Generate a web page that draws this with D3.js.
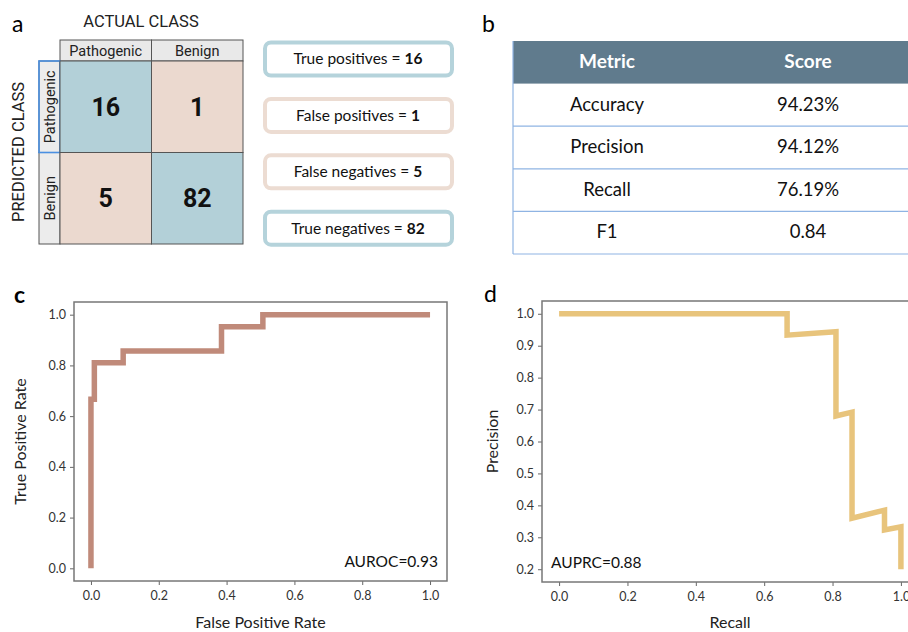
<!DOCTYPE html>
<html>
<head>
<meta charset="utf-8">
<script src="https://cdn.jsdelivr.net/npm/d3@7"></script>
<style>
  body { margin: 0; background: #fff; }
  svg { display: block; }
</style>
</head>
<body>
<svg width="908" height="632"></svg>
<script>
// panel a
const actualClasses = ["Pathogenic", "Benign"];
const predictedClasses = ["Pathogenic", "Benign"];
const confusion = [[16, 1], [5, 82]];
const summaryLabels = ["True positives", "False positives", "False negatives", "True negatives"];
const summaryValues = [16, 1, 5, 82];
const summaryKinds = ["true", "false", "false", "true"];

// panel b
const metricNames = ["Accuracy", "Precision", "Recall", "F1"];
const metricScores = ["94.23%", "94.12%", "76.19%", "0.84"];

// panel c - ROC
const rocFpr = [0, 0, 0.01, 0.01, 0.095, 0.095, 0.385, 0.385, 0.507, 0.507, 1.0];
const rocTpr = [0, 0.667, 0.667, 0.81, 0.81, 0.857, 0.857, 0.952, 0.952, 1.0, 1.0];
const rocXTicks = [0, 0.2, 0.4, 0.6, 0.8, 1.0];
const rocYTicks = [0, 0.2, 0.4, 0.6, 0.8, 1.0];

// panel d - PR
const prRecall = [0, 0.667, 0.667, 0.81, 0.81, 0.857, 0.857, 0.952, 0.952, 1.0, 1.0];
const prPrecision = [1.0, 1.0, 0.933, 0.944, 0.68, 0.692, 0.36, 0.385, 0.323, 0.333, 0.2];
const prXTicks = [0, 0.2, 0.4, 0.6, 0.8, 1.0];
const prYTicks = [0.2, 0.3, 0.4, 0.5, 0.6, 0.7, 0.8, 0.9, 1.0];

var svg = d3.select("svg");
var sans = "Lato, 'Open Sans', sans-serif";
var blueCell = "#b3d0d8", pinkCell = "#ebd9cf";

// panel letters
var letters = [["a", 12, 32, "normal"], ["b", 482, 32, "normal"], ["c", 14, 303, "bold"], ["d", 484, 302, "normal"]];
svg.selectAll(".letter").data(letters).enter().append("text")
    .attr("class", "letter")
    .attr("x", d => d[1]).attr("y", d => d[2])
    .style("font-family", sans).style("font-size", "23px").style("font-weight", d => d[3])
    .text(d => d[0]);

// ---------- a: confusion matrix ----------
var mx = d3.scaleBand().domain(actualClasses).range([60, 243]);
var my = d3.scaleBand().domain(predictedClasses).range([61, 244]);
var cm = svg.append("g").style("font-family", "Roboto, sans-serif");

cm.append("text").attr("x", 141).attr("y", 27).attr("text-anchor", "middle")
    .style("font-size", "16.5px").style("fill", "#222").text("ACTUAL CLASS");
cm.append("text").attr("transform", "translate(24,152) rotate(-90)").attr("text-anchor", "middle")
    .style("font-size", "16.5px").style("fill", "#222").text("PREDICTED CLASS");

// column header cells
cm.selectAll(".colhead").data(actualClasses).enter().append("rect")
    .attr("x", d => mx(d)).attr("y", 40).attr("width", mx.bandwidth()).attr("height", 21)
    .style("fill", "#e9e9e9").style("stroke", "#555").style("stroke-width", 1);
cm.selectAll(".colheadtxt").data(actualClasses).enter().append("text")
    .attr("x", d => mx(d) + mx.bandwidth() / 2).attr("y", 56).attr("text-anchor", "middle")
    .style("font-size", "14.5px").style("fill", "#222").text(d => d);

// row header cells
cm.selectAll(".rowhead").data(predictedClasses).enter().append("rect")
    .attr("x", 39).attr("y", d => my(d)).attr("width", 21).attr("height", my.bandwidth())
    .style("fill", "#ececec").style("stroke", "#555").style("stroke-width", 1);
cm.selectAll(".rowheadtxt").data(predictedClasses).enter().append("text")
    .attr("transform", d => "translate(55," + (my(d) + my.bandwidth() / 2) + ") rotate(-90)")
    .attr("text-anchor", "middle")
    .style("font-size", "14.5px").style("fill", "#222").text(d => d);
cm.append("rect").attr("x", 39).attr("y", my(predictedClasses[0]))
    .attr("width", 21).attr("height", my.bandwidth())
    .style("fill", "none").style("stroke", "#4a90e2").style("stroke-width", 1.6);

var cells = [];
predictedClasses.forEach((p, i) => actualClasses.forEach((a, j) => cells.push({p: p, a: a, v: confusion[i][j], diag: i === j})));
cm.selectAll(".cell").data(cells).enter().append("rect")
    .attr("x", d => mx(d.a)).attr("y", d => my(d.p))
    .attr("width", mx.bandwidth()).attr("height", my.bandwidth())
    .style("fill", d => d.diag ? blueCell : pinkCell).style("stroke", "#555").style("stroke-width", 1);
cm.selectAll(".celltxt").data(cells).enter().append("text")
    .attr("x", d => mx(d.a) + mx.bandwidth() / 2).attr("y", d => my(d.p) + my.bandwidth() / 2 + 9)
    .attr("text-anchor", "middle")
    .style("font-size", "25px").style("font-weight", "bold").style("fill", "#111").text(d => d.v);

// summary boxes
var boxY = d3.scaleBand().domain(summaryLabels).range([42.5, 244.7]).paddingInner(0.415);
var boxes = svg.selectAll(".sumbox").data(summaryLabels).enter().append("g");
boxes.append("rect")
    .attr("x", 265).attr("y", d => boxY(d)).attr("width", 187).attr("height", boxY.bandwidth())
    .attr("rx", 6)
    .style("fill", "#fff").style("stroke-width", 4)
    .style("stroke", (d, i) => summaryKinds[i] === "true" ? "#b5d3db" : "#ecdcd2");
var bt = boxes.append("text")
    .attr("x", 358).attr("y", d => boxY(d) + boxY.bandwidth() / 2 + 5.5).attr("text-anchor", "middle")
    .style("font-family", sans).style("font-size", "15.5px").style("fill", "#111");
bt.append("tspan").text(d => d + " = ");
bt.append("tspan").style("font-weight", "bold").text((d, i) => summaryValues[i]);

// ---------- b: metrics table ----------
var tLeft = 513, tRight = 960;
var rowY = d3.scaleBand().domain(["header"].concat(metricNames)).range([41, 254]);
var tb = svg.append("g").style("font-family", sans);
tb.append("rect").attr("x", tLeft).attr("y", rowY("header"))
    .attr("width", tRight - tLeft).attr("height", rowY.bandwidth())
    .style("fill", "#607b8d");
tb.selectAll(".hl").data(metricNames).enter().append("line")
    .attr("x1", tLeft).attr("x2", tRight)
    .attr("y1", d => rowY(d) + rowY.bandwidth()).attr("y2", d => rowY(d) + rowY.bandwidth())
    .style("stroke", "#8fb4e3").style("stroke-width", 1.2);
tb.append("line").attr("x1", tLeft).attr("x2", tLeft).attr("y1", 41).attr("y2", 254)
    .style("stroke", "#8fb4e3").style("stroke-width", 1.2);
tb.append("text").attr("x", 607).attr("y", rowY("header") + 27).attr("text-anchor", "middle")
    .style("font-size", "19px").style("font-weight", "bold").style("fill", "#fff").text("Metric");
tb.append("text").attr("x", 808).attr("y", rowY("header") + 27).attr("text-anchor", "middle")
    .style("font-size", "19px").style("font-weight", "bold").style("fill", "#fff").text("Score");
tb.selectAll(".mn").data(metricNames).enter().append("text")
    .attr("x", 607).attr("y", d => rowY(d) + 27).attr("text-anchor", "middle")
    .style("font-size", "18.5px").style("fill", "#111").text(d => d);
tb.selectAll(".ms").data(metricScores).enter().append("text")
    .attr("x", 808).attr("y", (d, i) => rowY(metricNames[i]) + 27).attr("text-anchor", "middle")
    .style("font-size", "18.5px").style("fill", "#111").text(d => d);

// ---------- shared plot helper ----------
function curvePanel(opt) {
    var g = svg.append("g").style("font-family", sans);
    var x = d3.scaleLinear().domain(opt.xDomain).range([opt.left, opt.right]);
    var y = d3.scaleLinear().domain(opt.yDomain).range([opt.bottom, opt.top]);

    var xAxis = d3.axisBottom(x).tickValues(opt.xTicks).tickFormat(d3.format(".1f")).tickSize(4).tickPadding(6);
    var yAxis = d3.axisLeft(y).tickValues(opt.yTicks).tickFormat(d3.format(".1f")).tickSize(4).tickPadding(4);

    var gx = g.append("g").attr("transform", "translate(0," + opt.bottom + ")").call(xAxis);
    var gy = g.append("g").attr("transform", "translate(" + opt.left + ",0)").call(yAxis);
    [gx, gy].forEach(a => {
        a.select(".domain").remove();
        a.selectAll(".tick line").style("stroke", "#666");
        a.selectAll(".tick text").style("font-family", sans).style("font-size", "12.5px").style("fill", "#333");
    });

    var line = d3.line().x(d => x(d[0])).y(d => y(d[1]));
    var pts = opt.xs.map((v, i) => [v, opt.ys[i]]);
    g.append("path").datum(pts).attr("d", line)
        .style("fill", "none").style("stroke", opt.color).style("stroke-width", 5.5)
        .style("stroke-linejoin", "miter").style("stroke-linecap", "butt");

    g.append("rect").attr("x", opt.left).attr("y", opt.top)
        .attr("width", opt.right - opt.left).attr("height", opt.bottom - opt.top)
        .style("fill", "none").style("stroke", "#777").style("stroke-width", 1.5);

    g.append("text").attr("x", (x(0) + x(1)) / 2).attr("y", 628).attr("text-anchor", "middle")
        .style("font-size", "16px").style("fill", "#222").text(opt.xLabel);
    g.append("text").attr("transform", "translate(" + opt.yLabelX + "," + (y(opt.yDomain[0]) + y(opt.yDomain[1])) / 2 + ") rotate(-90)")
        .attr("text-anchor", "middle")
        .style("font-size", "16px").style("fill", "#222").text(opt.yLabel);
    g.append("text").attr("x", opt.noteX).attr("y", opt.noteY).attr("text-anchor", opt.noteAnchor)
        .style("font-size", "15.5px").style("fill", "#111").text(opt.note);
}

curvePanel({
    left: 74, right: 447, top: 302, bottom: 581,
    xDomain: [-0.05, 1.05], yDomain: [-0.05, 1.05],
    xTicks: rocXTicks, yTicks: rocYTicks,
    xs: rocFpr, ys: rocTpr, color: "#c08a7a",
    xLabel: "False Positive Rate", yLabel: "True Positive Rate", yLabelX: 26,
    note: "AUROC=0.93", noteX: 438, noteY: 567, noteAnchor: "end"
});

curvePanel({
    left: 542, right: 918, top: 301, bottom: 582,
    xDomain: [-0.05, 1.05], yDomain: [0.16, 1.04],
    xTicks: prXTicks, yTicks: prYTicks,
    xs: prRecall, ys: prPrecision, color: "#e8c47c",
    xLabel: "Recall", yLabel: "Precision", yLabelX: 498,
    note: "AUPRC=0.88", noteX: 551, noteY: 568, noteAnchor: "start"
});
</script>
</body>
</html>
